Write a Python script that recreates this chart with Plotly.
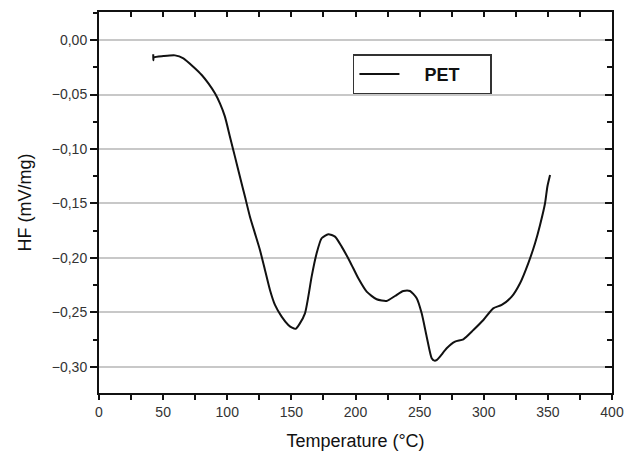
import plotly.graph_objects as go

# Temperature (°C) and heat flow HF (mV/mg)
temperature = [42.3, 42.3, 42.8, 50.2, 59.3, 65.8, 73.5, 80.1, 85.3, 90.4, 94.3, 98.2,
               102.1, 106.0, 109.9, 113.8, 117.7, 121.6, 125.5, 129.4, 133.3, 137.2,
               142.4, 147.6, 150.5, 153.4, 156.4, 160.6, 163.2, 165.8, 169.7, 173.6,
               178.8, 184.0, 189.2, 195.7, 202.2, 208.7, 216.5, 224.3, 230.8, 237.3,
               242.5, 247.7, 251.6, 255.5, 259.4, 261.5, 263.5, 265.9, 271.1, 277.6,
               284.1, 291.9, 299.7, 307.4, 314.0, 321.8, 328.3, 334.7, 340.0, 343.9,
               347.8, 349.6, 351.7]
hf = [-0.0130, -0.0185, -0.0159, -0.0147, -0.0141, -0.0168, -0.0245, -0.0321,
      -0.0398, -0.0489, -0.0581, -0.0703, -0.0887, -0.1070, -0.1254, -0.1437,
      -0.1621, -0.1774, -0.1927, -0.2110, -0.2294, -0.2431, -0.2538, -0.2615,
      -0.2640, -0.2650, -0.2605, -0.2508, -0.2355, -0.2171, -0.1957, -0.1819,
      -0.1782, -0.1804, -0.1896, -0.2034, -0.2187, -0.2309, -0.2379, -0.2394,
      -0.2349, -0.2303, -0.2303, -0.2370, -0.2508, -0.2722, -0.2920, -0.2942,
      -0.2935, -0.2905, -0.2829, -0.2768, -0.2746, -0.2661, -0.2569, -0.2462,
      -0.2431, -0.2355, -0.2232, -0.2049, -0.1865, -0.1697, -0.1498, -0.1346,
      -0.1239]
series_name = "PET"
x_range = [0, 400]
y_range = [-0.3239, 0.0257]

fig = go.Figure()
fig.add_trace(go.Scatter(x=temperature, y=hf, mode="lines",
                         name="&nbsp;&nbsp;&nbsp;&nbsp;<b>" + series_name + "</b>&nbsp;&nbsp;&nbsp;&nbsp;&nbsp;",
                         line=dict(color="#111111", width=2, shape="spline",
                                   smoothing=0.6)))
# invisible trace carrying the mirrored top/right axes (ticks pointing inward)
fig.add_trace(go.Scatter(x=[None], y=[None], xaxis="x2", yaxis="y2",
                         showlegend=False, hoverinfo="skip"))

tickfont = dict(family="Liberation Sans, Arial, sans-serif", size=14, color="#333333")
titlefont = dict(family="Liberation Sans, Arial, sans-serif", size=18, color="#111111")

fig.update_layout(
    width=634, height=456,
    margin=dict(l=99, r=22, t=12, b=63),
    paper_bgcolor="white", plot_bgcolor="white",
    separators=", ",
    xaxis=dict(range=x_range, type="linear", dtick=50, tick0=0, automargin=False,
               ticks="outside", ticklen=5, tickwidth=1.5, tickcolor="#111111",
               minor=dict(ticks="outside", dtick=25, ticklen=5, tickwidth=1.5,
                          tickcolor="#111111", showgrid=False),
               showline=True, linecolor="#111111", linewidth=2,
               showgrid=False, zeroline=False, tickfont=tickfont,
               title=dict(text="Temperature (°C)", font=titlefont, standoff=16)),
    yaxis=dict(range=y_range, type="linear", dtick=0.05, tick0=0, tickformat=".2f",
               automargin=False,
               ticks="outside", ticklen=7, tickwidth=1.5, tickcolor="#111111",
               minor=dict(ticks="outside", dtick=0.025, ticklen=4, tickwidth=1.5,
                          tickcolor="#111111", showgrid=False),
               showline=True, linecolor="#111111", linewidth=2,
               showgrid=True, gridcolor="#c8c8c8", gridwidth=1.5,
               zeroline=False, tickfont=tickfont,
               title=dict(text="HF (mV/mg)", font=titlefont, standoff=15)),
    xaxis2=dict(range=x_range, type="linear", overlaying="x", side="top",
                automargin=False,
                dtick=50, tick0=0, ticks="inside", ticklen=5, tickwidth=1.5,
                tickcolor="#111111",
                minor=dict(ticks="inside", dtick=25, ticklen=5, tickwidth=1.5,
                           tickcolor="#111111"),
                showticklabels=False, showline=True, linecolor="#111111",
                linewidth=2, showgrid=False, zeroline=False),
    yaxis2=dict(range=y_range, type="linear", overlaying="y", side="right",
                automargin=False,
                dtick=0.05, tick0=0, ticks="inside", ticklen=7, tickwidth=1.5,
                tickcolor="#111111",
                minor=dict(ticks="inside", dtick=0.025, ticklen=5, tickwidth=1.5,
                           tickcolor="#111111"),
                showticklabels=False, showline=True, linecolor="#111111",
                linewidth=2, showgrid=False, zeroline=False),
    legend=dict(x=0.495, y=0.889, xanchor="left", yanchor="top",
                bgcolor="white", bordercolor="#333333", borderwidth=1.5,
                font=dict(family="Liberation Sans, Arial, sans-serif", size=18,
                          color="#111111"),
                itemwidth=40, tracegroupgap=0),
    showlegend=True,
)

fig.write_html("out.html",
               config={"displayModeBar": False},
               post_script="document.body.style.margin='0';"
                           "document.body.style.overflow='hidden';")
